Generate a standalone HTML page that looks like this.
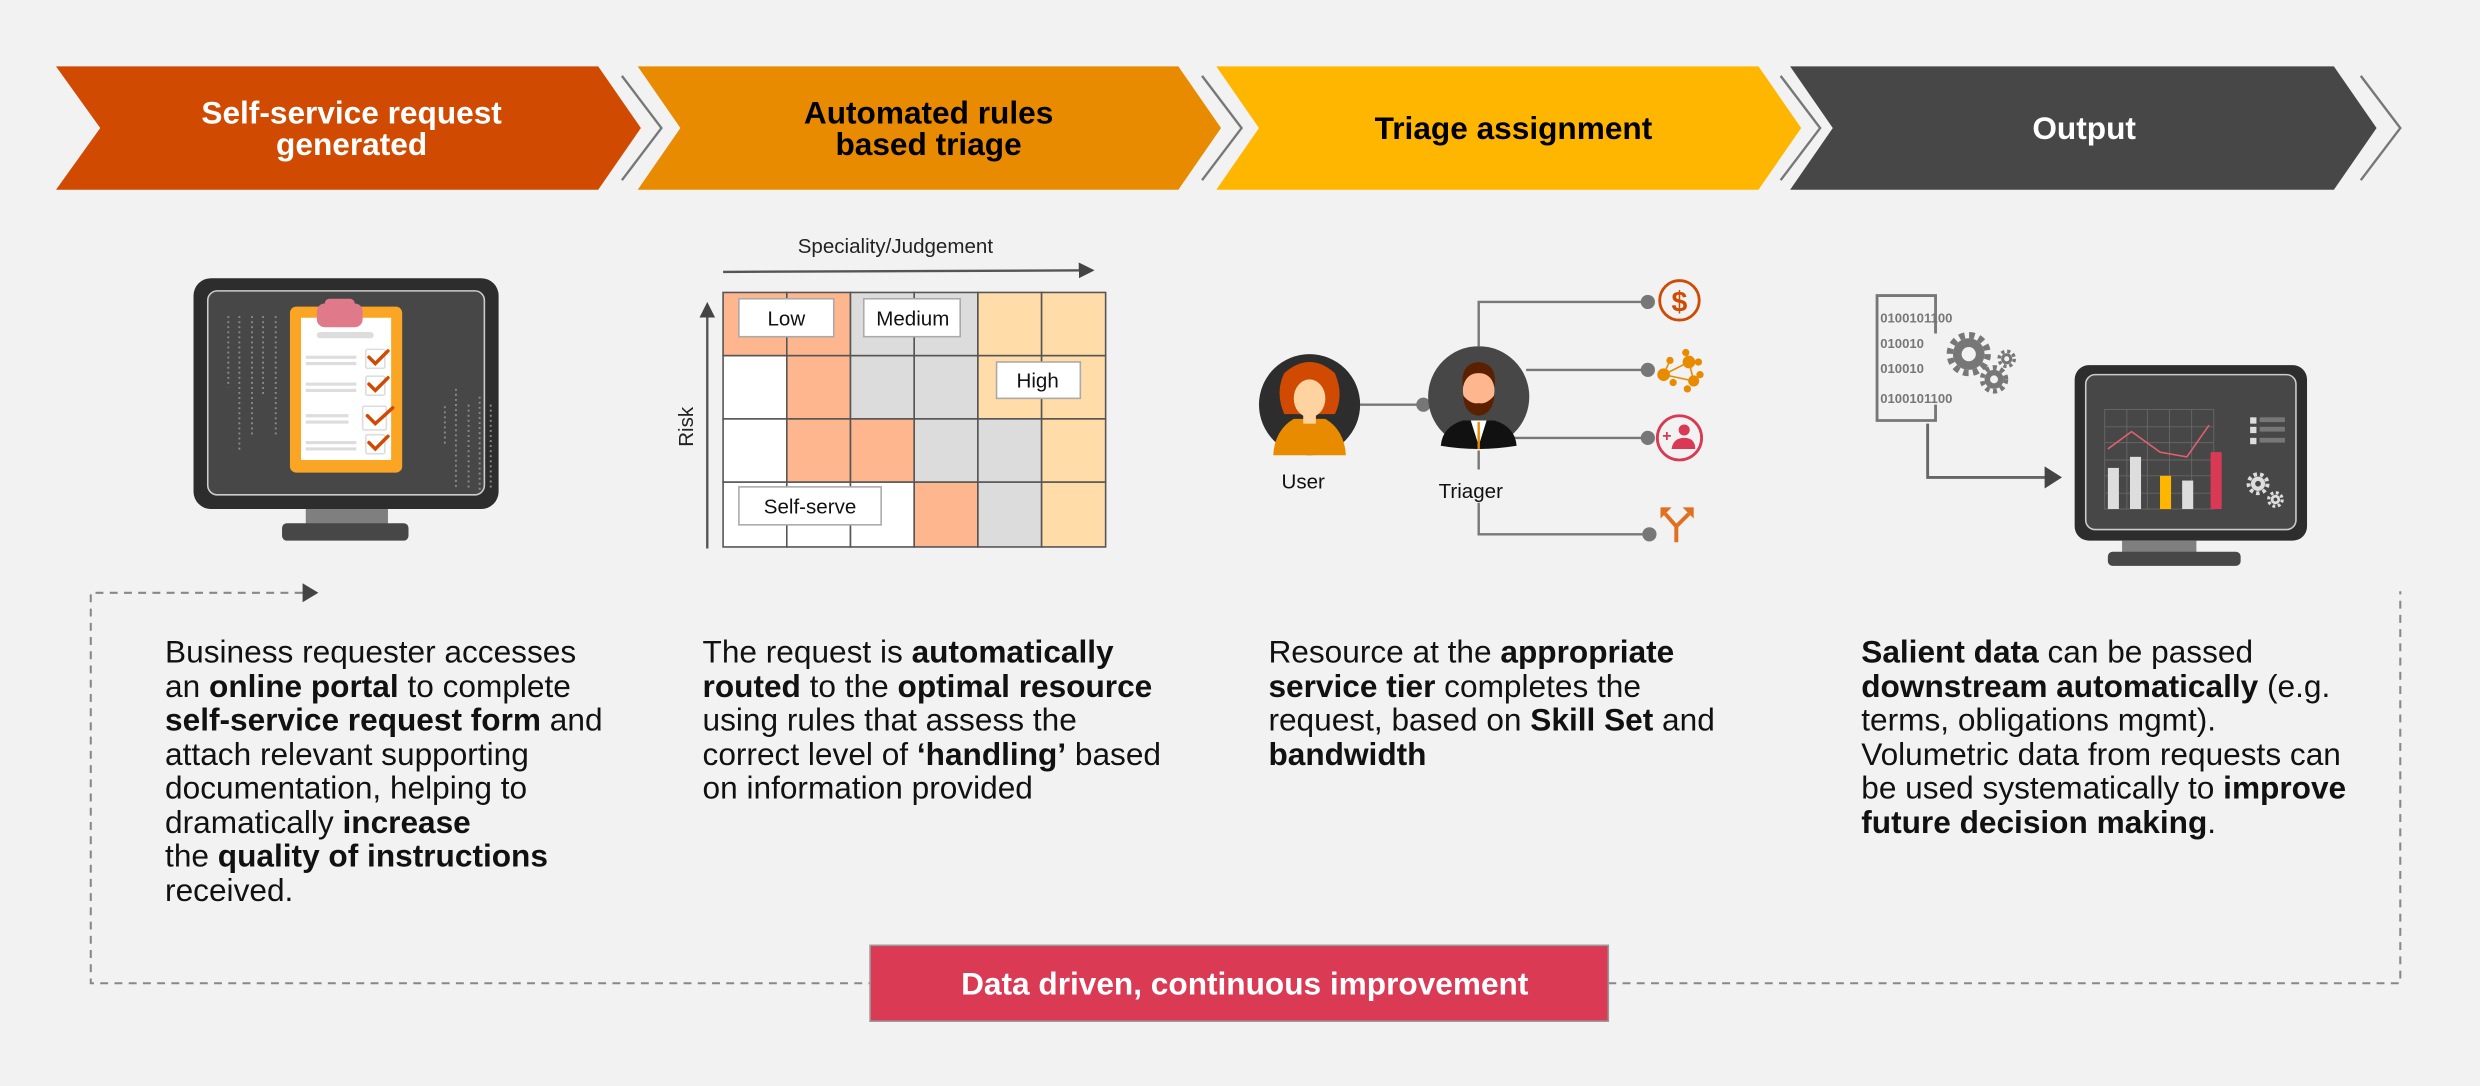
<!DOCTYPE html>
<html><head><meta charset="utf-8"><style>
html,body{margin:0;padding:0;background:#f2f2f2;}
svg{display:block;font-family:"Liberation Sans",Arial,sans-serif;}
</style></head><body>
<svg width="2480" height="1086" viewBox="0 0 1568 687" xmlns="http://www.w3.org/2000/svg">
<rect width="1568" height="687" fill="#f2f2f2"/>
<defs>
<marker id="ah" markerWidth="10" markerHeight="10" refX="8" refY="5" orient="auto" markerUnits="userSpaceOnUse"><path d="M0,0 L10,5 L0,10z" fill="#444"/></marker>
</defs>
<!-- chevrons -->
<polygon points="35,42 378,42 405,81 378,120 35,120 63,81" fill="#D04A02"/>
<polyline points="393,48 418,81 393,114" fill="none" stroke="#777" stroke-width="1.5"/>
<polygon points="403,42 745,42 772,81 745,120 403,120 430,81" fill="#E88B00"/>
<polyline points="760,48 785,81 760,114" fill="none" stroke="#777" stroke-width="1.5"/>
<polygon points="769,42 1112,42 1139,81 1112,120 769,120 796,81" fill="#FFB600"/>
<polyline points="1126,48 1151,81 1126,114" fill="none" stroke="#777" stroke-width="1.5"/>
<polygon points="1132,42 1476,42 1503,81 1476,120 1132,120 1159,81" fill="#474747"/>
<polyline points="1493,48 1518,81 1493,114" fill="none" stroke="#777" stroke-width="1.5"/>
<g font-weight="bold" font-size="20" text-anchor="middle">
<text x="222" y="78" fill="#fff">Self-service request</text>
<text x="222" y="98" fill="#fff">generated</text>
<text x="587" y="78" fill="#000">Automated rules</text>
<text x="587" y="98" fill="#000">based triage</text>
<text x="957" y="88" fill="#000">Triage assignment</text>
<text x="1318" y="88" fill="#fff">Output</text>
</g>
<!-- monitor 1 -->
<rect x="122" y="176" width="193" height="146" rx="11" fill="#2d2d2d"/>
<rect x="131" y="184" width="175" height="129" rx="6" fill="#474747" stroke="#ccc" stroke-width="1"/>
<rect x="193" y="322" width="52" height="10" fill="#7f7f7f"/>
<rect x="178" y="331" width="80" height="11" rx="3" fill="#474747"/>
<g stroke="#8a8a8a" stroke-width="1.2" stroke-dasharray="1.2,2">
<line x1="144" y1="200" x2="144" y2="245"/><line x1="151" y1="200" x2="151" y2="285"/><line x1="159" y1="200" x2="159" y2="275"/><line x1="166" y1="200" x2="166" y2="250"/><line x1="174" y1="200" x2="174" y2="275"/>
<line x1="281" y1="257" x2="281" y2="281"/><line x1="288" y1="246" x2="288" y2="310"/><line x1="296" y1="256" x2="296" y2="310"/><line x1="303" y1="251" x2="303" y2="310"/><line x1="310" y1="256" x2="310" y2="310"/>
</g>
<rect x="183" y="194" width="71" height="105" rx="4" fill="#FBA525"/>
<rect x="190" y="201" width="57" height="90" fill="#fff"/>
<rect x="200" y="192" width="29" height="15" rx="5" fill="#E07A8A"/>
<rect x="205" y="189" width="19" height="8" rx="3" fill="#E07A8A"/>
<rect x="200" y="210" width="36" height="4" rx="2" fill="#ddd"/>
<g fill="#ddd">
<rect x="193" y="225" width="32" height="2"/><rect x="193" y="229" width="32" height="2"/>
<rect x="193" y="242" width="32" height="2"/><rect x="193" y="246" width="32" height="2"/>
<rect x="193" y="262" width="27" height="2"/><rect x="193" y="266" width="27" height="2"/>
<rect x="193" y="279" width="32" height="2"/><rect x="193" y="283" width="32" height="2"/>
</g>
<g fill="#fff" stroke="#ddd" stroke-width="1"><rect x="231" y="221" width="12" height="12" rx="1"/><rect x="231" y="238" width="12" height="12" rx="1"/><rect x="229" y="257" width="15" height="15" rx="1"/><rect x="231" y="275" width="12" height="12" rx="1"/></g>
<g fill="none" stroke="#D04A02" stroke-width="2.2" stroke-linecap="round"><polyline points="233,226 237,230 245,222"/><polyline points="233,243 237,247 245,239"/><polyline points="232,263 237,268 248,258"/><polyline points="233,280 237,284 245,276"/></g>
<!-- grid -->
<text x="566" y="160" font-size="13" text-anchor="middle" fill="#222">Speciality/Judgement</text>
<line x1="457" y1="172" x2="690" y2="171" stroke="#555" stroke-width="1.5" marker-end="url(#ah)"/>
<line x1="447" y1="347" x2="447" y2="193" stroke="#555" stroke-width="1.5" marker-end="url(#ah)"/>
<text x="438" y="270" font-size="13" fill="#222" text-anchor="middle" transform="rotate(-90 438 270)">Risk</text>
<g stroke="#555" stroke-width="1">
<rect x="457" y="185" width="40.3" height="40" fill="#FDB68E"/><rect x="497.3" y="185" width="40.3" height="40" fill="#FDB68E"/><rect x="537.6" y="185" width="40.3" height="40" fill="#DCDCDC"/><rect x="577.9" y="185" width="40.3" height="40" fill="#DCDCDC"/><rect x="618.2" y="185" width="40.3" height="40" fill="#FFDCA8"/><rect x="658.5" y="185" width="40.5" height="40" fill="#FFDCA8"/>
<rect x="457" y="225" width="40.3" height="40" fill="#fff"/><rect x="497.3" y="225" width="40.3" height="40" fill="#FDB68E"/><rect x="537.6" y="225" width="40.3" height="40" fill="#DCDCDC"/><rect x="577.9" y="225" width="40.3" height="40" fill="#DCDCDC"/><rect x="618.2" y="225" width="40.3" height="40" fill="#FFDCA8"/><rect x="658.5" y="225" width="40.5" height="40" fill="#FFDCA8"/>
<rect x="457" y="265" width="40.3" height="40" fill="#fff"/><rect x="497.3" y="265" width="40.3" height="40" fill="#FDB68E"/><rect x="537.6" y="265" width="40.3" height="40" fill="#FDB68E"/><rect x="577.9" y="265" width="40.3" height="40" fill="#DCDCDC"/><rect x="618.2" y="265" width="40.3" height="40" fill="#DCDCDC"/><rect x="658.5" y="265" width="40.5" height="40" fill="#FFDCA8"/>
<rect x="457" y="305" width="40.3" height="41" fill="#fff"/><rect x="497.3" y="305" width="40.3" height="41" fill="#fff"/><rect x="537.6" y="305" width="40.3" height="41" fill="#fff"/><rect x="577.9" y="305" width="40.3" height="41" fill="#FDB68E"/><rect x="618.2" y="305" width="40.3" height="41" fill="#DCDCDC"/><rect x="658.5" y="305" width="40.5" height="41" fill="#FFDCA8"/>
</g>
<g fill="#fff" stroke="#aaa" stroke-width="1">
<rect x="467" y="189" width="60" height="24"/><rect x="546" y="189" width="61" height="24"/><rect x="630" y="229" width="53" height="23"/><rect x="467" y="308" width="90" height="24"/>
</g>
<g font-size="13" fill="#111" text-anchor="middle">
<text x="497" y="206">Low</text><text x="577" y="206">Medium</text><text x="656" y="245">High</text><text x="512" y="325">Self-serve</text>
</g>
<!-- triage -->
<g stroke="#777" stroke-width="1.5" fill="none">
<line x1="860" y1="256" x2="900" y2="256"/>
<polyline points="935,219 935,191 1042,191"/>
<line x1="965" y1="234" x2="1042" y2="234"/>
<line x1="955" y1="277" x2="1042" y2="277"/>
<line x1="935" y1="285" x2="935" y2="297"/>
<polyline points="935,318 935,338 1043,338"/>
</g>
<g fill="#777"><circle cx="900" cy="256" r="4.5"/><circle cx="1042" cy="191" r="4.5"/><circle cx="1042" cy="234" r="4.5"/><circle cx="1042" cy="277" r="4.5"/><circle cx="1043" cy="338" r="4.5"/></g>
<circle cx="828" cy="256" r="32" fill="#2d2d2d"/>
<path d="M805,288 Q806,272 818,265 L838,265 Q850,272 851,288 Z" fill="#E88B00"/>
<path d="M812,262 Q806,248 812,236 Q828,222 844,236 Q850,250 844,262 Z" fill="#D04A02"/>
<ellipse cx="828" cy="252" rx="10" ry="12" fill="#FFD3A0"/>
<rect x="824" y="260" width="8" height="8" fill="#FFD3A0"/>
<circle cx="935" cy="251" r="32" fill="#474747"/>
<path d="M911,282 Q912,270 925,266 L945,266 Q958,270 959,282 Q947,284 935,284 Q922,284 911,282Z" fill="#111"/>
<polygon points="930,266 940,266 935,282" fill="#fff"/>
<line x1="935" y1="267" x2="935" y2="284" stroke="#E88B00" stroke-width="1.5"/>
<ellipse cx="935" cy="247" rx="10" ry="12" fill="#FDB68E"/>
<path d="M925,245 Q923,230 935,229 Q947,230 945,245 Q943,236 935,236 Q927,236 925,245Z" fill="#5a2000"/>
<path d="M925,250 Q926,262 935,263 Q944,262 945,250 Q940,256 935,255 Q930,256 925,250Z" fill="#5a2000"/>
<g font-size="13" fill="#111" text-anchor="middle"><text x="824" y="309">User</text><text x="930" y="315">Triager</text></g>
<circle cx="1062" cy="190" r="12.5" fill="none" stroke="#D04A02" stroke-width="1.8"/>
<text x="1062" y="197" font-size="18" font-weight="bold" fill="#D04A02" text-anchor="middle">$</text>
<g stroke="#E88B00" stroke-width="1" fill="#E88B00">
<line x1="1052" y1="237" x2="1068" y2="229"/><line x1="1068" y1="229" x2="1071" y2="241"/><line x1="1052" y1="237" x2="1071" y2="241"/><line x1="1052" y1="237" x2="1056" y2="228"/><line x1="1068" y1="229" x2="1066" y2="223"/>
<circle cx="1052" cy="237" r="3.5"/><circle cx="1068" cy="229" r="3.5"/><circle cx="1071" cy="241" r="3"/><circle cx="1056" cy="228" r="1.8"/><circle cx="1066" cy="223" r="1.8"/><circle cx="1074" cy="229" r="1.8"/><circle cx="1075" cy="237" r="1.8"/><circle cx="1067" cy="246" r="1.8"/><circle cx="1058" cy="242" r="1.8"/>
</g>
<circle cx="1062" cy="277" r="14" fill="none" stroke="#D93954" stroke-width="1.8"/>
<circle cx="1065" cy="272" r="3.5" fill="#D93954"/>
<path d="M1057,284 Q1058,277 1065,277 Q1072,277 1072,284Z" fill="#D93954"/>
<text x="1054" y="279" font-size="10" font-weight="bold" fill="#D93954" text-anchor="middle">+</text>
<g stroke="#E0701E" stroke-width="2.5" fill="none"><polyline points="1060,343 1060,333 1053,325"/><line x1="1060" y1="333" x2="1068" y2="325"/></g>
<polygon points="1050,321 1057,321 1050,328" fill="#E0701E"/><polygon points="1071,321 1071,328 1064,321" fill="#E0701E"/>
<!-- output -->
<path d="M1224,211 L1224,187 L1187,187 L1187,266 L1224,266 L1224,256" fill="none" stroke="#777" stroke-width="1.8"/>
<g font-size="8.3" font-weight="bold" fill="#777"><text x="1189" y="204">0100101100</text><text x="1189" y="220">010010</text><text x="1189" y="236">010010</text><text x="1189" y="255">0100101100</text></g>
<g fill="#777">
<circle cx="1245" cy="224" r="10"/><circle cx="1245" cy="224" r="12" fill="none" stroke="#777" stroke-width="4" stroke-dasharray="3.5,2.8"/>
<circle cx="1261" cy="240" r="6"/><circle cx="1261" cy="240" r="7.5" fill="none" stroke="#777" stroke-width="3" stroke-dasharray="2.6,2.3"/>
<circle cx="1269" cy="227" r="3.5"/><circle cx="1269" cy="227" r="4.8" fill="none" stroke="#777" stroke-width="2.2" stroke-dasharray="2,1.8"/>
</g>
<g fill="#f2f2f2"><circle cx="1245" cy="224" r="4.5"/><circle cx="1261" cy="240" r="2.5"/><circle cx="1269" cy="227" r="1.6"/></g>
<polyline points="1219,268 1219,302 1294,302" fill="none" stroke="#666" stroke-width="1.8"/>
<polygon points="1293,295 1304,302 1293,309" fill="#444"/>
<rect x="1312" y="231" width="147" height="111" rx="9" fill="#2d2d2d"/>
<rect x="1319" y="237" width="133" height="98" rx="6" fill="#474747" stroke="#ccc" stroke-width="1"/>
<rect x="1342" y="342" width="47" height="8" fill="#7f7f7f"/>
<rect x="1333" y="349" width="84" height="9" rx="3" fill="#474747"/>
<g stroke="#666" stroke-width="0.6" fill="none">
<rect x="1331" y="259" width="69" height="63"/><line x1="1345" y1="259" x2="1345" y2="322"/><line x1="1358" y1="259" x2="1358" y2="322"/><line x1="1372" y1="259" x2="1372" y2="322"/><line x1="1386" y1="259" x2="1386" y2="322"/>
<line x1="1331" y1="270" x2="1400" y2="270"/><line x1="1331" y1="280" x2="1400" y2="280"/><line x1="1331" y1="291" x2="1400" y2="291"/><line x1="1331" y1="301" x2="1400" y2="301"/><line x1="1331" y1="312" x2="1400" y2="312"/>
</g>
<rect x="1333" y="296" width="7" height="26" fill="#ddd"/><rect x="1347" y="289" width="7" height="33" fill="#ddd"/><rect x="1366" y="301" width="7" height="21" fill="#FFB600"/><rect x="1380" y="304" width="7" height="18" fill="#ddd"/><rect x="1398" y="286" width="7" height="36" fill="#D93954"/>
<polyline points="1333,284 1348,273 1366,286 1383,289 1397,269" fill="none" stroke="#e06070" stroke-width="1"/>
<g fill="#777"><rect x="1423" y="264" width="4" height="4" fill="#ddd"/><rect x="1429" y="264" width="16" height="3"/><rect x="1423" y="270" width="4" height="4" fill="#ddd"/><rect x="1429" y="270" width="16" height="3"/><rect x="1423" y="277" width="4" height="4" fill="#ddd"/><rect x="1429" y="277" width="16" height="3"/></g>
<g fill="#ddd"><circle cx="1428" cy="306" r="4.5"/><circle cx="1428" cy="306" r="6" fill="none" stroke="#ddd" stroke-width="2.5" stroke-dasharray="2.2,2"/><circle cx="1439" cy="316" r="3"/><circle cx="1439" cy="316" r="4.3" fill="none" stroke="#ddd" stroke-width="2" stroke-dasharray="1.8,1.6"/></g>
<g fill="#474747"><circle cx="1428" cy="306" r="1.8"/><circle cx="1439" cy="316" r="1.2"/></g>
<!-- paragraphs -->
<g font-size="20" fill="#111">
<text x="104" y="419">Business requester accesses</text>
<text x="104" y="441">an <tspan font-weight="bold">online portal</tspan> to complete</text>
<text x="104" y="462"><tspan font-weight="bold">self-service request form</tspan> and</text>
<text x="104" y="484">attach relevant supporting</text>
<text x="104" y="505">documentation, helping to</text>
<text x="104" y="527">dramatically <tspan font-weight="bold">increase</tspan></text>
<text x="104" y="548">the <tspan font-weight="bold">quality of instructions</tspan></text>
<text x="104" y="570">received.</text>
<text x="444" y="419">The request is <tspan font-weight="bold">automatically</tspan></text>
<text x="444" y="441"><tspan font-weight="bold">routed</tspan> to the <tspan font-weight="bold">optimal resource</tspan></text>
<text x="444" y="462">using rules that assess the</text>
<text x="444" y="484">correct level of <tspan font-weight="bold">‘handling’</tspan> based</text>
<text x="444" y="505">on information provided</text>
<text x="802" y="419">Resource at the <tspan font-weight="bold">appropriate</tspan></text>
<text x="802" y="441"><tspan font-weight="bold">service tier</tspan> completes the</text>
<text x="802" y="462">request, based on <tspan font-weight="bold">Skill Set</tspan> and</text>
<text x="802" y="484"><tspan font-weight="bold">bandwidth</tspan></text>
<text x="1177" y="419"><tspan font-weight="bold">Salient data</tspan> can be passed</text>
<text x="1177" y="441"><tspan font-weight="bold">downstream automatically</tspan> (e.g.</text>
<text x="1177" y="462">terms, obligations mgmt).</text>
<text x="1177" y="484">Volumetric data from requests can</text>
<text x="1177" y="505">be used systematically to <tspan font-weight="bold">improve</tspan></text>
<text x="1177" y="527"><tspan font-weight="bold">future decision making</tspan>.</text>
</g>
<!-- loop -->
<g stroke="#888" stroke-width="1.3" fill="none" stroke-dasharray="5,4">
<polyline points="191,375 57,375 57,622 550,622"/>
<polyline points="1017,622 1518,622 1518,374"/>
</g>
<polygon points="191,369 201,375 191,381" fill="#444"/>
<rect x="550" y="598" width="467" height="48" fill="#DB3A55" stroke="#999" stroke-width="1"/>
<text x="787" y="629" font-size="20" font-weight="bold" fill="#fff" text-anchor="middle">Data driven, continuous improvement</text>
</svg>
</body></html>
